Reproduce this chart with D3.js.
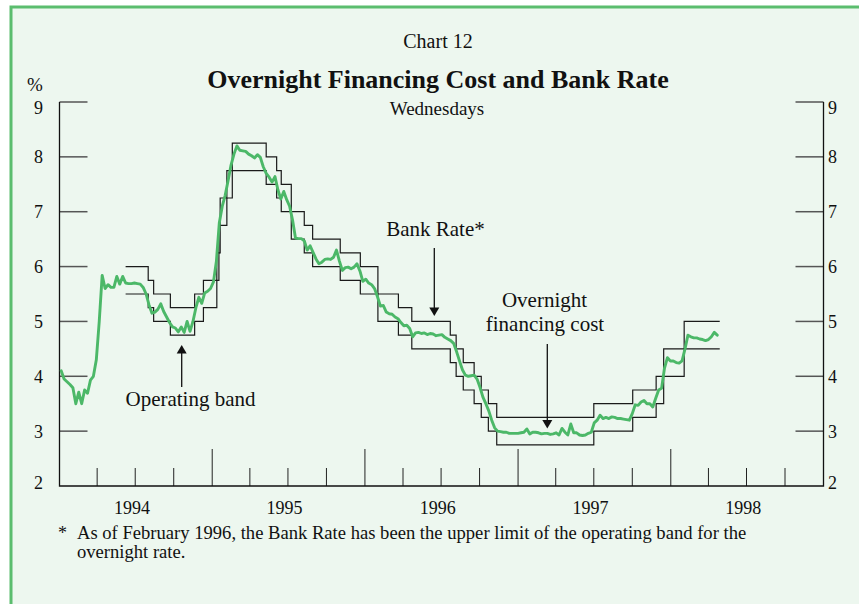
<!DOCTYPE html>
<html><head><meta charset="utf-8">
<script src="https://cdn.jsdelivr.net/npm/d3@7"></script>
<style>
html,body{margin:0;padding:0;background:#fff;}
svg{display:block;}
text{font-family:"Liberation Serif","Times New Roman",serif;fill:#111;}
</style></head><body>
<svg id="c" width="859" height="604"></svg>
<script>
// ---- data ----
const firstWednesday = "1994-01-05";
const overnight = [
 4.10,3.95,3.90,3.85,3.79,3.50,3.71,3.50,3.75,3.69,3.93,4.00,4.30,5.00,5.84,5.60,5.67,5.62,5.62,5.82,
 5.68,5.82,5.70,5.69,5.69,5.70,5.69,5.68,5.62,5.50,5.30,5.15,5.17,5.22,5.32,5.18,5.08,4.98,4.90,4.88,
 4.81,4.90,4.80,5.00,4.82,5.00,5.25,5.44,5.33,5.52,5.55,5.60,5.72,6.10,6.80,7.10,7.30,7.57,7.85,8.05,
 8.20,8.12,8.11,8.10,8.05,8.02,7.98,8.04,7.99,7.82,7.70,7.63,7.54,7.64,7.40,7.23,7.37,7.22,7.10,6.85,
 6.52,6.51,6.51,6.47,6.30,6.38,6.26,6.14,6.05,6.08,6.13,6.14,6.13,6.17,6.30,6.10,5.93,5.98,5.99,5.96,
 5.99,6.05,5.92,5.73,5.77,5.70,5.67,5.60,5.45,5.28,5.29,5.17,5.14,5.13,5.08,5.05,4.98,4.92,4.93,4.87,
 4.72,4.79,4.80,4.78,4.79,4.76,4.78,4.77,4.74,4.75,4.76,4.71,4.68,4.65,4.60,4.45,4.28,4.12,4.02,4.00,
 4.01,4.02,3.95,3.80,3.62,3.50,3.37,3.20,3.06,3.00,2.99,2.98,2.98,2.96,2.96,2.96,2.96,2.97,2.98,3.04,
 2.95,2.98,2.98,2.97,2.95,2.96,2.96,2.94,2.95,2.97,2.93,3.05,2.98,2.93,3.13,2.97,2.97,2.93,2.92,2.93,
 2.96,2.98,3.15,3.20,3.29,3.23,3.25,3.23,3.26,3.25,3.23,3.23,3.22,3.21,3.20,3.32,3.48,3.47,3.53,3.56,
 3.50,3.50,3.44,3.60,3.75,3.78,4.15,4.34,4.28,4.28,4.25,4.24,4.28,4.50,4.75,4.72,4.70,4.70,4.68,4.67,
 4.65,4.67,4.72,4.80,4.75
];
const bandDates = ["1994-06-08","1994-08-01","1994-08-14","1994-09-23","1994-11-20","1994-12-11",
 "1995-01-12","1995-01-17","1995-01-20","1995-02-05","1995-02-18","1995-05-10","1995-06-04","1995-06-15",
 "1995-07-09","1995-08-09","1995-08-29","1995-11-03","1995-12-21","1996-02-01","1996-03-21","1996-04-22",
 "1996-07-23","1996-08-06","1996-08-23","1996-09-18","1996-10-05","1996-10-22","1996-11-11","1997-07-01",
 "1997-10-02","1997-11-27","1997-12-15","1998-02-02","1998-04-28"];
const bandUpper = [6.0,5.75,5.5,5.25,5.5,5.75,6.25,6.75,7.25,7.75,8.25,8.0,7.75,7.5,7.0,6.75,6.5,6.25,6.0,5.5,
 5.25,5.0,4.75,4.5,4.25,4.0,3.75,3.5,3.25,3.5,3.75,4.0,4.5,5.0,5.0];
const bandLower = [5.5,5.25,5.0,4.75,5.0,5.25,5.75,6.25,6.75,7.25,7.75,7.5,7.25,7.0,6.5,6.25,6.0,5.75,5.5,5.0,
 4.75,4.5,4.25,4.0,3.75,3.5,3.25,3.0,2.75,3.0,3.25,3.5,4.0,4.5,4.5];
const yTicks = [3,4,5,6,7,8,9];
const yLabels = [2,3,4,5,6,7,8,9];
const yearLabels = ["1994","1995","1996","1997","1998"];
const titleText = "Overnight Financing Cost and Bank Rate";
const chartNo = "Chart 12";
const subtitle = "Wednesdays";
const footnote1 = "As of February 1996, the Bank Rate has been the upper limit of the operating band for the";
const footnote2 = "overnight rate.";

// ---- layout ----
const L = 59.5, R = 823.5, T = 102, B = 486;
const parse = d3.timeParse("%Y-%m-%d");
const svg = d3.select("#c");

svg.append("rect").attr("x",11).attr("y",7).attr("width",900).attr("height",700)
  .attr("fill","#edf7ef").attr("stroke","#5bbd6e").attr("stroke-width",3);

const x = d3.scaleTime().domain([new Date(1994,0,1), new Date(1999,0,1)]).range([L,R]);
const y = d3.scaleLinear().domain([2,9]).range([B,T]);

// y ticks (inward, both sides)
const g = svg.append("g");
yTicks.forEach(v=>{
  g.append("line").attr("x1",L).attr("x2",L+28).attr("y1",y(v)).attr("y2",y(v))
    .attr("stroke","#555").attr("stroke-width",1.5);
  g.append("line").attr("x1",R-28).attr("x2",R).attr("y1",y(v)).attr("y2",y(v))
    .attr("stroke","#555").attr("stroke-width",1.5);
});
yLabels.forEach(v=>{
  const yy = Math.min(Math.max(y(v), T+5.5), B-3.4);
  g.append("text").attr("x",43).attr("y",yy).attr("dy","0.36em").attr("text-anchor","end")
    .attr("font-size",18).text(v);
  g.append("text").attr("x",828).attr("y",yy).attr("dy","0.36em").attr("text-anchor","start")
    .attr("font-size",18).text(v);
});

// x ticks: quarterly, long at year boundaries
const qt = d3.timeMonth.every(3).range(new Date(1994,0,1), new Date(1999,0,1)).slice(1);
qt.forEach(d=>{
  const long = d.getMonth()===0;
  g.append("line").attr("x1",x(d)).attr("x2",x(d)).attr("y1",B).attr("y2",B-(long?37:18))
    .attr("stroke","#222").attr("stroke-width",1);
});
yearLabels.forEach(yr=>{
  g.append("text").attr("x",x(new Date(+yr,5,23))).attr("y",513.5).attr("text-anchor","middle")
    .attr("font-size",18).text(yr);
});

// axes frame
svg.append("path").attr("d",`M${L},${T}V${B}H${R}V${T}`).attr("fill","none")
  .attr("stroke","#111").attr("stroke-width",1.3);

// band lines
const band = bandDates.map((d,i)=>({date:parse(d), up:bandUpper[i], lo:bandLower[i]}));
const stepUp = d3.line().curve(d3.curveStepAfter).x(d=>x(d.date)).y(d=>y(d.up));
const stepLo = d3.line().curve(d3.curveStepAfter).x(d=>x(d.date)).y(d=>y(d.lo));
svg.append("path").attr("d",stepUp(band)).attr("fill","none").attr("stroke","#1a1a1a").attr("stroke-width",1.2);
svg.append("path").attr("d",stepLo(band)).attr("fill","none").attr("stroke","#1a1a1a").attr("stroke-width",1.2);

// overnight series
const start = parse(firstWednesday);
const series = overnight.map((v,i)=>({date:d3.timeDay.offset(start,7*i), v}));
svg.append("path").attr("d",d3.line().x(d=>x(d.date)).y(d=>y(d.v))(series))
  .attr("fill","none").attr("stroke","#4cb868").attr("stroke-width",2.9)
  .attr("stroke-linejoin","round").attr("stroke-linecap","round");

// titles
svg.append("text").attr("x",438).attr("y",48).attr("text-anchor","middle").attr("font-size",20).text(chartNo);
svg.append("text").attr("x",438).attr("y",88).attr("text-anchor","middle").attr("font-size",26)
  .attr("font-weight","bold").text(titleText);
svg.append("text").attr("x",437).attr("y",115).attr("text-anchor","middle").attr("font-size",19).text(subtitle);
svg.append("text").attr("x",27).attr("y",91).attr("font-size",19).text("%");

// annotations
function arrow(xp, y0, tip){
  const dir = tip>y0 ? 1 : -1;
  svg.append("line").attr("x1",xp).attr("x2",xp).attr("y1",y0).attr("y2",tip-dir*8)
    .attr("stroke","#111").attr("stroke-width",1.3);
  svg.append("path").attr("d",`M${xp},${tip}L${xp-5},${tip-dir*8.5}L${xp+5},${tip-dir*8.5}Z`).attr("fill","#111");
}
svg.append("text").attr("x",190.5).attr("y",405.5).attr("text-anchor","middle").attr("font-size",21).text("Operating band");
arrow(181.7, 387, 345);
svg.append("text").attr("x",435.5).attr("y",236).attr("text-anchor","middle").attr("font-size",21).text("Bank Rate*");
arrow(434.3, 248, 316);
svg.append("text").attr("x",544.5).attr("y",306.5).attr("text-anchor","middle").attr("font-size",21).text("Overnight");
svg.append("text").attr("x",545).attr("y",330.5).attr("text-anchor","middle").attr("font-size",21).text("financing cost");
arrow(547.3, 344, 428.5);

// footnote
svg.append("text").attr("x",58).attr("y",539).attr("font-size",18).text("*");
svg.append("text").attr("x",77).attr("y",539).attr("font-size",18.6).text(footnote1);
svg.append("text").attr("x",77).attr("y",558).attr("font-size",18.6).text(footnote2);
</script>
</body></html>
